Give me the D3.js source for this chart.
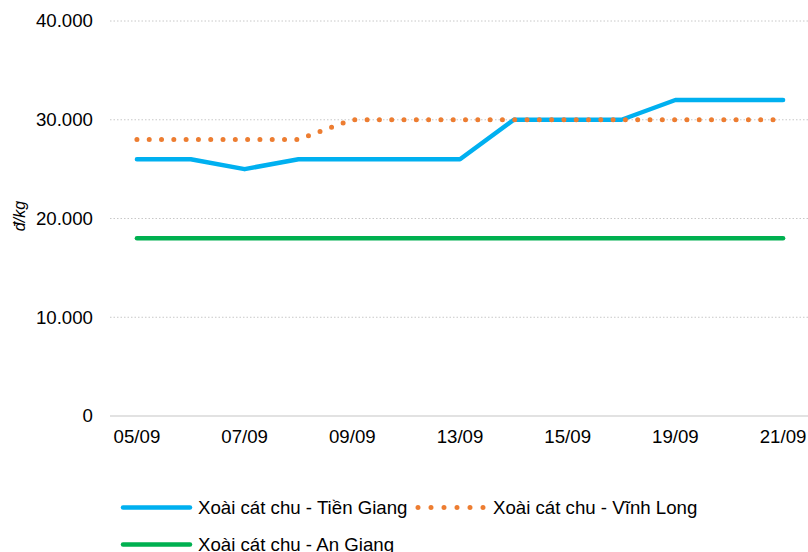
<!DOCTYPE html>
<html>
<head>
<meta charset="utf-8">
<script src="https://cdn.jsdelivr.net/npm/d3@7"></script>
<style>
  body { margin: 0; background: #fff; }
  svg { display: block; font-family: "Liberation Sans", Arial, sans-serif; }
</style>
</head>
<body>
<svg id="chart" width="808" height="552"></svg>
<script>
// Mango price series (đ/kg) by trading day
const dates = ["05/09","06/09","07/09","08/09","09/09","12/09","13/09","14/09","15/09","18/09","19/09","20/09","21/09"];
const shownDates = ["05/09","07/09","09/09","13/09","15/09","19/09","21/09"];
const tienGiang = [26000,26000,25000,26000,26000,26000,26000,30000,30000,30000,32000,32000,32000];
const vinhLong  = [28000,28000,28000,28000,30000,30000,30000,30000,30000,30000,30000,30000,30000];
const anGiang   = [18000,18000,18000,18000,18000,18000,18000,18000,18000,18000,18000,18000,18000];
const yTicks = [0,10000,20000,30000,40000];
const seriesNames = ["Xoài cát chu - Tiền Giang","Xoài cát chu - Vĩnh Long","Xoài cát chu - An Giang"];

const series = [
  { name: seriesNames[0], values: tienGiang, color: "#00B0F0", dotted: false },
  { name: seriesNames[1], values: vinhLong,  color: "#ED7D31", dotted: true },
  { name: seriesNames[2], values: anGiang,   color: "#00B050", dotted: false }
];

const svg = d3.select("#chart");
const plotLeft = 110, plotRight = 810, plotTop = 21, plotBottom = 416;
const fontSize = 18.67;

const x = d3.scaleBand().domain(dates).range([plotLeft, plotRight]);
const y = d3.scaleLinear().domain([0, 40000]).range([plotBottom, plotTop]);
const fmt = v => v === 0 ? "0" : d3.format(",")(v).replace(/,/g, ".");

// gridlines
svg.append("g").selectAll("line").data(yTicks.filter(d => d > 0)).join("line")
  .attr("x1", plotLeft).attr("x2", 808)
  .attr("y1", d => y(d)).attr("y2", d => y(d))
  .attr("stroke", "#c8c8c8").attr("stroke-width", 1)
  .attr("stroke-dasharray", "1.5 2");

// baseline
svg.append("line").attr("x1", plotLeft).attr("x2", 808)
  .attr("y1", y(0)).attr("y2", y(0))
  .attr("stroke", "#d9d9d9").attr("stroke-width", 1.5);

// y axis labels
const yAxis = d3.axisLeft(y).tickValues(yTicks).tickFormat(fmt).tickSize(0).tickPadding(0);
const gy = svg.append("g").attr("transform", `translate(${plotLeft - 17},0)`).call(yAxis);
gy.select(".domain").remove();
gy.selectAll("text").attr("font-size", fontSize).attr("fill", "#000")
  .attr("font-family", "'Liberation Sans', Arial, sans-serif");

// x axis labels
const xAxis = d3.axisBottom(x).tickValues(shownDates).tickSize(0).tickPadding(0);
const gx = svg.append("g").attr("transform", `translate(0,${plotBottom + 14})`).call(xAxis);
gx.select(".domain").remove();
gx.selectAll("text").attr("font-size", fontSize).attr("fill", "#000")
  .attr("font-family", "'Liberation Sans', Arial, sans-serif");

// y axis title
svg.append("text")
  .attr("transform", "translate(25,216) rotate(-90)")
  .attr("text-anchor", "middle")
  .attr("font-size", 16).attr("font-style", "italic")
  .text("đ/kg");

// lines
const line = d3.line()
  .x((d, i) => x(dates[i]) + x.bandwidth() / 2)
  .y(d => y(d));

series.forEach(s => {
  const p = svg.append("path").datum(s.values)
    .attr("d", line)
    .attr("fill", "none")
    .attr("stroke", s.color)
    .attr("stroke-linecap", "round")
    .attr("stroke-linejoin", "round");
  if (s.dotted) {
    p.attr("stroke-width", 5).attr("stroke-dasharray", "0 12.3");
  } else {
    p.attr("stroke-width", 4.5);
  }
});

// legend
const legendItems = [
  { s: series[0], x1: 123, x2: 190, tx: 198, ty: 507.5 },
  { s: series[1], x1: 418, x2: 485, tx: 493, ty: 507.5 },
  { s: series[2], x1: 123, x2: 190, tx: 198, ty: 544.5 }
];
legendItems.forEach(({ s, x1, x2, tx, ty }) => {
  const g = svg.append("g");
  const l = g.append("line").attr("x1", x1).attr("x2", x2)
    .attr("y1", ty).attr("y2", ty)
    .attr("stroke", s.color).attr("stroke-linecap", "round");
  if (s.dotted) {
    l.attr("stroke-width", 5).attr("stroke-dasharray", "0 13");
  } else {
    l.attr("stroke-width", 4.5);
  }
  g.append("text").attr("x", tx).attr("y", ty + 6.8)
    .attr("font-size", fontSize).attr("fill", "#000").text(s.name);
});
</script>
</body>
</html>
